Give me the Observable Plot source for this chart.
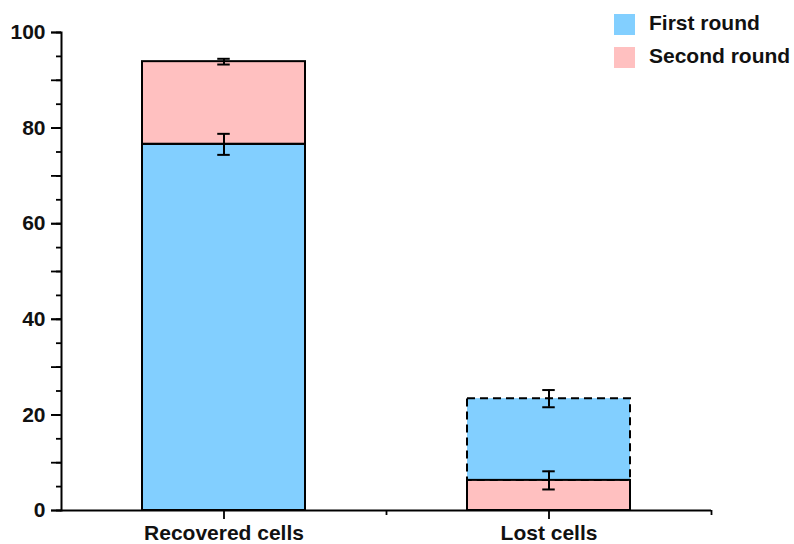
<!DOCTYPE html>
<html>
<head>
<meta charset="utf-8">
<script src="https://cdn.jsdelivr.net/npm/d3@7"></script>
<script src="https://cdn.jsdelivr.net/npm/@observablehq/plot@0.6"></script>
<style>
  html, body { margin: 0; padding: 0; background: #fff; }
  #wrap { position: relative; width: 794px; height: 544px; font-family: "Liberation Sans", Arial, sans-serif; }
  .sw { position: absolute; width: 21px; height: 21px; }
  .lt { position: absolute; font-size: 21px; line-height: 21px; font-weight: bold; color: #111; white-space: nowrap; }
</style>
</head>
<body>
<div id="wrap"><div id="chart"></div></div>
<script>
// ---- data ----
const categories = ["Recovered cells", "Lost cells"];
const seriesNames = ["First round", "Second round"];
const seriesColors = ["#82CFFF", "#FFC0C0"];
// segment values per category
const firstRound = [76.6, 17.1];
const firstRoundErr = [2.2, 1.8];
const secondRound = [17.3, 6.3];
const secondRoundErr = [0.6, 1.9];
// stacking order (bottom -> top) per category
const stackOrder = [["First round", "Second round"], ["Second round", "First round"]];
// segments drawn with a dashed outline
const dashedSegments = [["Lost cells", "First round"]];
const yLabelTicks = [0, 20, 40, 60, 80, 100];

// ---- build table ----
const rows = [];
categories.forEach((cat, i) => {
  let base = 0;
  for (const s of stackOrder[i]) {
    const v = s === "First round" ? firstRound[i] : secondRound[i];
    const e = s === "First round" ? firstRoundErr[i] : secondRoundErr[i];
    rows.push({
      category: cat, series: s, y1: base, y2: base + v, err: e,
      dashed: dashedSegments.some(([c, ss]) => c === cat && ss === s)
    });
    base += v;
  }
});

const W = 794, H = 544, mL = 61, mR = 83, mT = 32, mB = 34;
const step = (W - mL - mR) / categories.length;
const capInset = (step * 0.5 - 12) / 2;
const font = {fontSize: 21, fontWeight: "bold", fontFamily: "Liberation Sans, Arial, sans-serif"};

const chart = Plot.plot({
  width: W, height: H,
  marginLeft: mL, marginRight: mR, marginTop: mT, marginBottom: mB,
  style: {background: "#fff", color: "#000", fontFamily: "Liberation Sans, Arial, sans-serif"},
  x: {type: "band", domain: categories, paddingInner: 0.5, paddingOuter: 0.25, label: null},
  y: {domain: [0, 100], label: null},
  color: {domain: seriesNames, range: seriesColors},
  marks: [
    Plot.barY(rows, {x: "category", y1: "y1", y2: "y2", fill: "series"}),
    Plot.barY(rows.filter(d => d.dashed), {x: "category", y1: "y1", y2: "y2", fill: "none", stroke: "#000", strokeWidth: 2, strokeDasharray: "8,5"}),
    Plot.barY(rows.filter(d => !d.dashed), {x: "category", y1: "y1", y2: "y2", fill: "none", stroke: "#000", strokeWidth: 2}),
    Plot.ruleX(rows, {x: "category", y1: d => d.y2 - d.err, y2: d => d.y2 + d.err, stroke: "#000", strokeWidth: 2}),
    Plot.tickY(rows, {x: "category", y: d => d.y2 - d.err, inset: capInset, stroke: "#000", strokeWidth: 2}),
    Plot.tickY(rows, {x: "category", y: d => d.y2 + d.err, inset: capInset, stroke: "#000", strokeWidth: 2}),
    // y axis
    Plot.axisY({ticks: d3.range(0, 101, 5), tickSize: 5, text: null, strokeWidth: 1.8}),
    Plot.axisY({ticks: d3.range(0, 101, 10), tickSize: 10, text: null, strokeWidth: 1.8}),
    Plot.axisY({ticks: yLabelTicks, tickSize: 10, tickPadding: 6, tickFormat: d3.format("d"), strokeWidth: 1.8, fill: "#111", ...font}),
    // x axis
    Plot.axisX({tickSize: 9, tickPadding: 6, strokeWidth: 1.8, fill: "#111", ...font}),
    Plot.axisX({tickSize: 5, text: null, dx: step / 2, strokeWidth: 1.8}),
    Plot.ruleY([0], {stroke: "#000", strokeWidth: 2}),
    Plot.frame({anchor: "left", stroke: "#000", strokeWidth: 2})
  ]
});
document.getElementById("chart").appendChild(chart);

// legend (HTML, overlaid)
const wrap = document.getElementById("wrap");
seriesNames.forEach((s, i) => {
  const sw = document.createElement("div");
  sw.className = "sw";
  sw.style.left = "614px";
  sw.style.top = (14 + i * 33) + "px";
  sw.style.background = seriesColors[i];
  wrap.appendChild(sw);
  const t = document.createElement("div");
  t.className = "lt";
  t.style.left = "649px";
  t.style.top = (12 + i * 33) + "px";
  t.textContent = s;
  wrap.appendChild(t);
});
</script>
</body>
</html>
